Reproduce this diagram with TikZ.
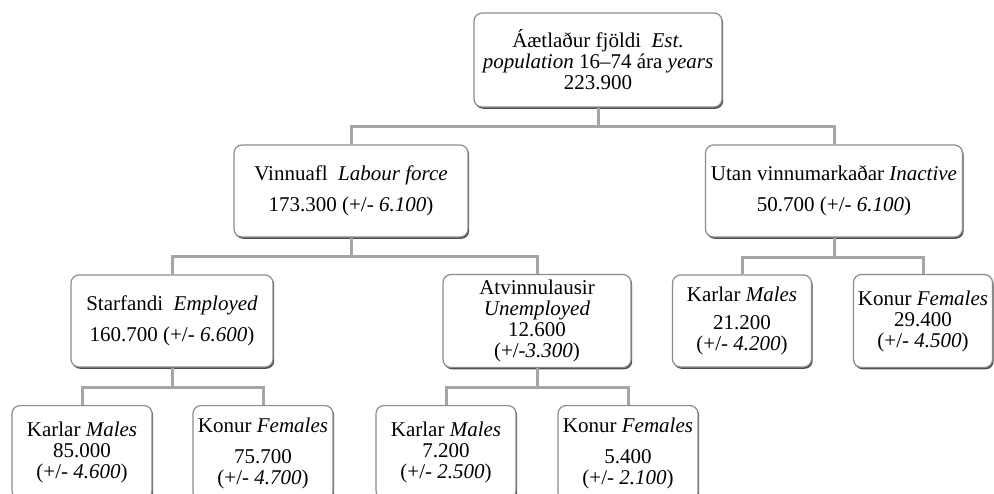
\documentclass[tikz,border=0pt]{standalone}
\usepackage{fontspec}
\setmainfont{Liberation Serif}
\usetikzlibrary{shadows}

\tikzset{
    box/.style={draw=gray!90, line width=1.2pt, rounded corners=8pt, fill=white,
        align=center, inner sep=0pt, font=\fontsize{21}{21}\selectfont,
        drop shadow={shadow xshift=1.2pt, shadow yshift=-1.8pt, fill=black!70, opacity=1}},
    leaf/.style={box, anchor=north, minimum width=140, inner ysep=16pt},
    link/.style={draw=gray!70, line width=3pt}
}

\begin{document}
\begin{tikzpicture}[x=1pt, y=-1pt]
    \useasboundingbox (0, 0) rectangle (994, 493); % page size
    \clip (0, 0) rectangle (994, 493);

    % levels
    \node[box, minimum width=248, minimum height=94] (total) at (598, 60)
        {Áætlaður fjöldi \ \textit{Est.}\\ \textit{population} 16--74 ára \textit{years}\\ 223.900};
    \node[box, minimum width=234, minimum height=92] (labour) at (351, 191)
        {Vinnuafl \ \textit{Labour force}\\[10pt] 173.300 (+/- \textit{6.100})};
    \node[box, minimum width=257, minimum height=92] (inactive) at (834, 191)
        {Utan vinnumarkaðar \textit{Inactive}\\[10pt] 50.700 (+/- \textit{6.100})};

    \node[box, minimum width=202, minimum height=92] (employed) at (172, 321)
        {Starfandi \ \textit{Employed}\\[10pt] 160.700 (+/- \textit{6.600})};
    \node[box, minimum width=188, minimum height=93] (unemployed) at (537, 321)
        {Atvinnulausir\\ \textit{Unemployed}\\ 12.600\\ (+/-\textit{3.300})};
    \node[box, minimum width=139, minimum height=92] (inmales) at (742, 321)
        {Karlar \textit{Males}\\[7pt] 21.200\\ (+/- \textit{4.200})};
    \node[box, minimum width=139, minimum height=93] (infemales) at (923, 321)
        {Konur \textit{Females}\\ 29.400\\ (+/- \textit{4.500})};

    \node[leaf] (emales) at (82, 405)
        {Karlar \textit{Males}\\ 85.000\\ (+/- \textit{4.600})};
    \node[leaf, inner ysep=12pt] (efemales) at (263, 405)
        {Konur \textit{Females}\\[10pt] 75.700\\ (+/- \textit{4.700})};
    \node[leaf] (umales) at (446, 405)
        {Karlar \textit{Males}\\ 7.200\\ (+/- \textit{2.500})};
    \node[leaf, inner ysep=12pt] (ufemales) at (628, 405)
        {Konur \textit{Females}\\[10pt] 5.400\\ (+/- \textit{2.100})};

    % connectors
    \coordinate (b1) at (598, 126);
    \coordinate (b2) at (351, 256);
    \coordinate (b3) at (834, 257);
    \coordinate (b4) at (172, 387);
    \coordinate (b5) at (537, 387);

    \draw[link] (total.south) -- (b1);
    \foreach \n in {labour, inactive} {
        \draw[link] (b1) -| (\n.north);
    }
    \draw[link] (labour.south) -- (b2);
    \foreach \n in {employed, unemployed} {
        \draw[link] (b2) -| (\n.north);
    }
    \draw[link] (inactive.south) -- (b3);
    \foreach \n in {inmales, infemales} {
        \draw[link] (b3) -| (\n.north);
    }
    \draw[link] (employed.south) -- (b4);
    \foreach \n in {emales, efemales} {
        \draw[link] (b4) -| (\n.north);
    }
    \draw[link] (unemployed.south) -- (b5);
    \foreach \n in {umales, ufemales} {
        \draw[link] (b5) -| (\n.north);
    }

\end{tikzpicture}
\end{document}
